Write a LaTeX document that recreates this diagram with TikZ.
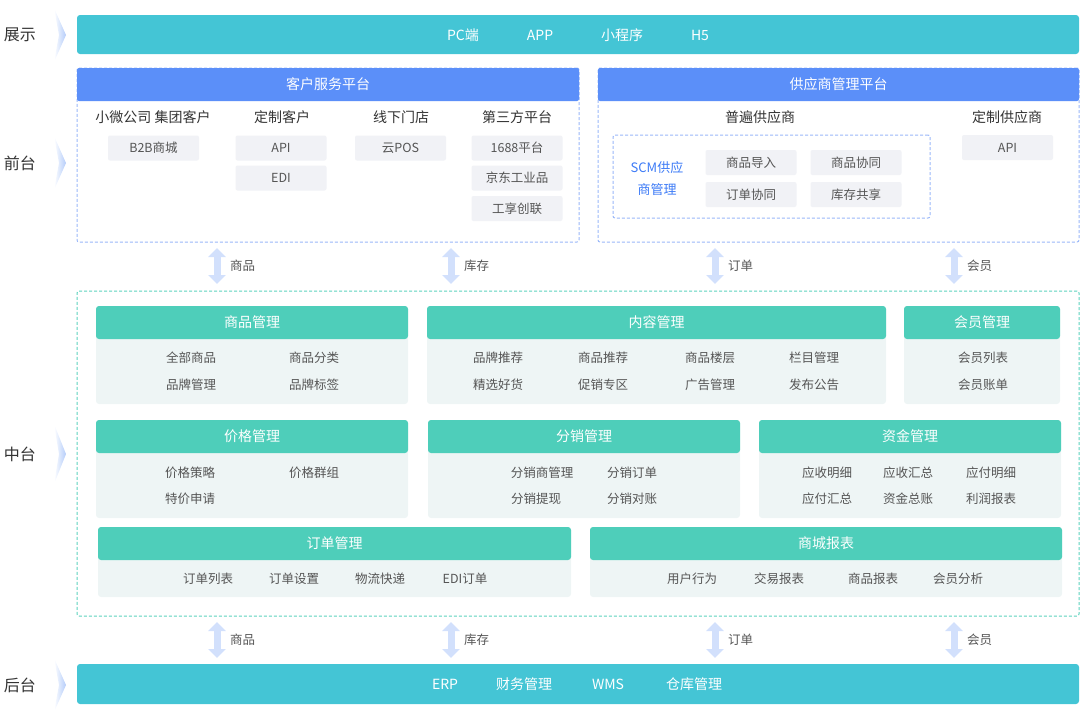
\documentclass[tikz,border=0pt]{standalone}
\usepackage{fontspec}
\setmainfont{Noto Sans CJK SC}
\usetikzlibrary{arrows.meta}
\definecolor{barteal}{HTML}{44C5D5}
\definecolor{hdblue}{HTML}{5B8FF9}
\definecolor{dashblue}{HTML}{9AB8F9}
\definecolor{modteal}{HTML}{4ECEBA}
\definecolor{modbody}{HTML}{EEF5F5}
\definecolor{midteal}{HTML}{5CD3BD}
\definecolor{chipgrey}{HTML}{F1F2F6}
\definecolor{txtdark}{HTML}{333333}
\definecolor{txtgrey}{HTML}{555555}
\definecolor{scmblue}{HTML}{3D7BF7}
\definecolor{arrowblue}{HTML}{D2E0FC}
\definecolor{chevblue}{HTML}{B4CCFA}

\begin{document}
\begin{tikzpicture}[x=1pt,y=-1pt,
    every node/.style={inner sep=0pt,outer sep=0pt},
    lay/.style={text=txtdark,font=\fontsize{16}{18}\selectfont},
    chev/.style={left color=white,right color=chevblue},
    bar/.style={fill=barteal,rounded corners=3pt,anchor=north west},
    bartxt/.style={text=white,font=\fontsize{14}{16}\selectfont},
    plat/.style={draw=dashblue,line width=1pt,dash pattern=on 3pt off 2pt,fill=white,
                 rounded corners=2pt,anchor=north west},
    phd/.style={fill=hdblue,rounded corners=2pt,anchor=north west,
                text=white,font=\fontsize{14}{16}\selectfont},
    grp/.style={text=txtdark,font=\fontsize{14}{16}\selectfont},
    chip/.style={fill=chipgrey,rounded corners=2pt,minimum width=91pt,
                 minimum height=25pt,text=txtgrey,font=\fontsize{12.5}{14}\selectfont},
    mid/.style={draw=midteal,line width=1pt,dash pattern=on 3pt off 2pt,rounded corners=2pt,
                anchor=north west},
    mbody/.style={fill=modbody,rounded corners=3pt,anchor=north west},
    mhd/.style={fill=modteal,rounded corners=3pt,anchor=north west,
                text=white,font=\fontsize{14}{16}\selectfont},
    it/.style={text=txtgrey,font=\fontsize{12.5}{14}\selectfont},
    flow/.style={draw=arrowblue,line width=7pt,
                 {Triangle[width=17pt,length=9pt]}-{Triangle[width=17pt,length=9pt]}},
    flab/.style={text=txtgrey,font=\fontsize{12.5}{14}\selectfont,anchor=west}]

  \useasboundingbox (0,0) rectangle (1080,721);

  % ---------------- layer labels and chevrons
  \node[lay] (lshow) at (20,35) {展示};
  \node[lay] (lfront) at (20,163) {前台};
  \node[lay] (lmid) at (20,454) {中台};
  \node[lay] (lback) at (20,685) {后台};
  \shade[chev] (54,8) -- (66,35) -- (54,62) -- (59,35) -- cycle;
  \shade[chev] (54,136) -- (66,163) -- (54,190) -- (59,163) -- cycle;
  \shade[chev] (54,424) -- (66,454) -- (54,484) -- (59,454) -- cycle;
  \shade[chev] (54,658) -- (66,685) -- (54,712) -- (59,685) -- cycle;

  % ---------------- display layer
  \node[bar,minimum width=1002pt,minimum height=39pt] (show) at (77,15) {};
  \node[bartxt] (pc) at (463,35) {PC端};
  \node[bartxt] (app) at (540,35) {APP};
  \node[bartxt] (mini) at (622,35) {小程序};
  \node[bartxt] (hfive) at (700,35) {H5};

  % ---------------- front: customer service platform
  \node[plat,minimum width=502pt,minimum height=174pt] (cust) at (77,68) {};
  \node[phd,minimum width=502pt,minimum height=33pt] (custhd) at (77,68) {客户服务平台};
  \node[grp] (gsmall) at (153,117) {小微公司 集团客户};
  \node[grp] (gcustom) at (282,117) {定制客户};
  \node[grp] (gstore) at (401,117) {线下门店};
  \node[grp] (gthird) at (517,117) {第三方平台};
  \node[chip] (btob) at (153.5,148) {B2B商城};
  \node[chip] (capi) at (281,148) {API};
  \node[chip] (cedi) at (281,178) {EDI};
  \node[chip] (cpos) at (400.5,148) {云POS};
  \node[chip] (alib) at (517,148) {1688平台};
  \node[chip] (jd) at (517,178) {京东工业品};
  \node[chip] (gxcl) at (517,208.5) {工享创联};

  % ---------------- front: supplier platform
  \node[plat,minimum width=481pt,minimum height=174pt] (sup) at (598,68) {};
  \node[phd,minimum width=481pt,minimum height=33pt] (suphd) at (598,68) {供应商管理平台};
  \node[grp] (gcommon) at (760,117) {普遍供应商};
  \node[grp] (gcsup) at (1007,117) {定制供应商};
  \node[plat,minimum width=317pt,minimum height=83pt] (scm) at (613,135) {};
  \node[text=scmblue,align=center,font=\fontsize{13}{22}\selectfont] (scmt) at (657,179)
       {SCM供应\\商管理};
  \node[chip] (simp) at (751,162.5) {商品导入};
  \node[chip] (ssyn) at (856,162.5) {商品协同};
  \node[chip] (osyn) at (751,194.5) {订单协同};
  \node[chip] (stock) at (856,194.5) {库存共享};
  \node[chip] (sapi) at (1007.5,147.5) {API};

  % ---------------- links front / middle
  \coordinate (ft1) at (217,248); \coordinate (fb1) at (217,284);
  \coordinate (ft2) at (451,248); \coordinate (fb2) at (451,284);
  \coordinate (ft3) at (715,248); \coordinate (fb3) at (715,284);
  \coordinate (ft4) at (954,248); \coordinate (fb4) at (954,284);
  \draw[flow] (ft1) -- node[flab,xshift=13pt] {商品} (fb1);
  \draw[flow] (ft2) -- node[flab,xshift=13pt] {库存} (fb2);
  \draw[flow] (ft3) -- node[flab,xshift=13pt] {订单} (fb3);
  \draw[flow] (ft4) -- node[flab,xshift=13pt] {会员} (fb4);

  % ---------------- middle platform
  \node[mid,minimum width=1002pt,minimum height=325pt] (midbox) at (77,291) {};

  \node[mbody,minimum width=312pt,minimum height=98pt] (goods) at (96,306) {};
  \node[mhd,minimum width=312pt,minimum height=33pt] (goodshd) at (96,306) {商品管理};
  \node[it] (g1) at (191,358) {全部商品};
  \node[it] (g2) at (314,358) {商品分类};
  \node[it] (g3) at (191,385) {品牌管理};
  \node[it] (g4) at (314,385) {品牌标签};

  \node[mbody,minimum width=459pt,minimum height=98pt] (cont) at (427,306) {};
  \node[mhd,minimum width=459pt,minimum height=33pt] (conthd) at (427,306) {内容管理};
  \node[it] (c1) at (498,358) {品牌推荐};
  \node[it] (c2) at (603,358) {商品推荐};
  \node[it] (c3) at (710,358) {商品楼层};
  \node[it] (c4) at (814,358) {栏目管理};
  \node[it] (c5) at (498,385) {精选好货};
  \node[it] (c6) at (603,385) {促销专区};
  \node[it] (c7) at (710,385) {广告管理};
  \node[it] (c8) at (814,385) {发布公告};

  \node[mbody,minimum width=156pt,minimum height=98pt] (memb) at (904,306) {};
  \node[mhd,minimum width=156pt,minimum height=33pt] (membhd) at (904,306) {会员管理};
  \node[it] (m1) at (983,358) {会员列表};
  \node[it] (m2) at (983,385) {会员账单};

  \node[mbody,minimum width=312pt,minimum height=98pt] (price) at (96,420) {};
  \node[mhd,minimum width=312pt,minimum height=33pt] (pricehd) at (96,420) {价格管理};
  \node[it] (p1) at (190,473) {价格策略};
  \node[it] (p2) at (314,473) {价格群组};
  \node[it] (p3) at (190,499) {特价申请};

  \node[mbody,minimum width=312pt,minimum height=98pt] (dist) at (428,420) {};
  \node[mhd,minimum width=312pt,minimum height=33pt] (disthd) at (428,420) {分销管理};
  \node[it] (d1) at (542,473) {分销商管理};
  \node[it] (d2) at (632,473) {分销订单};
  \node[it] (d3) at (536,499) {分销提现};
  \node[it] (d4) at (632,499) {分销对账};

  \node[mbody,minimum width=302pt,minimum height=98pt] (fund) at (759,420) {};
  \node[mhd,minimum width=302pt,minimum height=33pt] (fundhd) at (759,420) {资金管理};
  \node[it] (f1) at (827,473) {应收明细};
  \node[it] (f2) at (908,473) {应收汇总};
  \node[it] (f3) at (991,473) {应付明细};
  \node[it] (f4) at (827,499) {应付汇总};
  \node[it] (f5) at (908,499) {资金总账};
  \node[it] (f6) at (991,499) {利润报表};

  \node[mbody,minimum width=473pt,minimum height=70pt] (order) at (98,527) {};
  \node[mhd,minimum width=473pt,minimum height=33pt] (orderhd) at (98,527) {订单管理};
  \node[it] (o1) at (208,579) {订单列表};
  \node[it] (o2) at (294,579) {订单设置};
  \node[it] (o3) at (380,579) {物流快递};
  \node[it] (o4) at (465,579) {EDI订单};

  \node[mbody,minimum width=472pt,minimum height=70pt] (rep) at (590,527) {};
  \node[mhd,minimum width=472pt,minimum height=33pt] (rephd) at (590,527) {商城报表};
  \node[it] (r1) at (692,579) {用户行为};
  \node[it] (r2) at (779,579) {交易报表};
  \node[it] (r3) at (873,579) {商品报表};
  \node[it] (r4) at (958,579) {会员分析};

  % ---------------- links middle / back
  \coordinate (bt1) at (217,622); \coordinate (bb1) at (217,658);
  \coordinate (bt2) at (451,622); \coordinate (bb2) at (451,658);
  \coordinate (bt3) at (715,622); \coordinate (bb3) at (715,658);
  \coordinate (bt4) at (954,622); \coordinate (bb4) at (954,658);
  \draw[flow] (bt1) -- node[flab,xshift=13pt] {商品} (bb1);
  \draw[flow] (bt2) -- node[flab,xshift=13pt] {库存} (bb2);
  \draw[flow] (bt3) -- node[flab,xshift=13pt] {订单} (bb3);
  \draw[flow] (bt4) -- node[flab,xshift=13pt] {会员} (bb4);

  % ---------------- back layer
  \node[bar,minimum width=1002pt,minimum height=40pt] (back) at (77,664) {};
  \node[bartxt] (erp) at (445,684) {ERP};
  \node[bartxt] (fin) at (524,684) {财务管理};
  \node[bartxt] (wms) at (608,684) {WMS};
  \node[bartxt] (wh) at (694,684) {仓库管理};
\end{tikzpicture}
\end{document}
